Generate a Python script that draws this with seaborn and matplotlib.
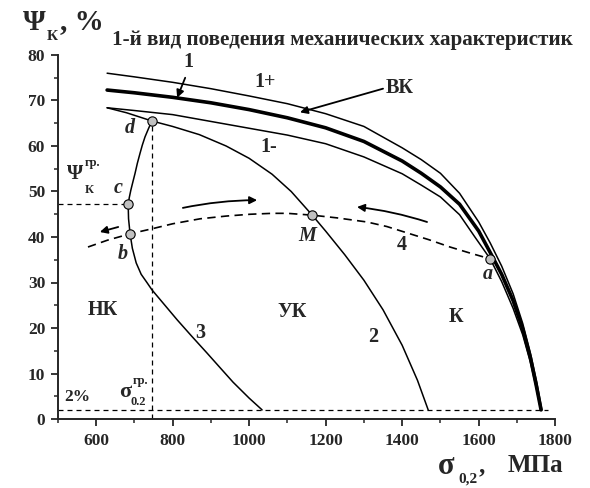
# Import necessary libraries
import numpy as np
import matplotlib
matplotlib.use("Agg")
import matplotlib.pyplot as plt
import seaborn as sns

# Curve data (sigma_0.2 in MPa, Psi_K in %)
upper_x = [629, 700, 800, 900, 1000, 1100, 1200, 1300, 1400, 1450, 1500, 1550, 1600, 1630,
           1660, 1690, 1715, 1735, 1752, 1765]
upper_y = [76.0, 75.2, 74.0, 72.6, 71.0, 69.3, 67.1, 64.3, 59.6, 57.0, 54.0, 49.6, 43.3, 38.7,
           33.6, 27.5, 21.0, 14.5, 8.0, 2.0]

main_x = [629, 700, 800, 900, 1000, 1100, 1200, 1300, 1400, 1450, 1500, 1550, 1600, 1630,
          1660, 1690, 1715, 1735, 1750, 1763]
main_y = [72.3, 71.7, 70.7, 69.5, 68.0, 66.2, 64.0, 61.0, 56.7, 54.0, 51.0, 47.2, 41.3, 36.6,
          31.8, 26.0, 19.8, 13.5, 7.5, 2.0]

lower_x = [629, 700, 800, 900, 1000, 1100, 1200, 1300, 1400, 1450, 1500, 1550, 1590, 1630,
           1660, 1690, 1715, 1735, 1750, 1762]
lower_y = [68.4, 67.8, 66.9, 65.4, 63.9, 62.4, 60.5, 57.6, 53.9, 51.4, 48.8, 44.9, 40.0, 35.2,
           30.2, 24.3, 18.5, 12.5, 7.0, 2.0]

curve2_x = [629, 680, 746, 800, 870, 940, 1000, 1060, 1110, 1165, 1200, 1250, 1300, 1350,
            1400, 1440, 1468]
curve2_y = [68.4, 67.3, 65.5, 64.3, 62.5, 60.0, 57.3, 53.8, 50.0, 44.8, 41.3, 36.1, 30.5, 24.0,
            16.2, 8.5, 2.0]

curve3_x = [746, 737, 728, 721, 715, 708, 702, 696, 691, 687, 684, 685, 689, 695, 705, 718,
            733, 746, 780, 812, 850, 890, 925, 958, 1000, 1034]
curve3_y = [65.5, 63.8, 62.0, 60.2, 58.4, 56.2, 54.0, 52.0, 50.3, 48.7, 47.2, 44.0, 40.7, 37.5,
            34.3, 31.8, 30.0, 28.4, 25.0, 21.8, 18.2, 14.5, 11.2, 8.1, 4.6, 2.0]

curve4_x = [579, 630, 689, 746, 800, 872, 940, 1003, 1060, 1100, 1165, 1230, 1308, 1360,
            1413, 1470, 1525, 1580, 1630]
curve4_y = [37.8, 39.3, 40.7, 41.8, 42.9, 44.0, 44.6, 45.0, 45.2, 45.2, 44.8, 44.2, 43.3, 42.3,
            40.9, 39.4, 37.8, 36.4, 35.2]

# Marked points a, b, c, d, M
point_names = ["a", "b", "c", "d", "M"]
point_x = [1630, 689, 684, 746, 1165]
point_y = [35.2, 40.7, 47.2, 65.5, 44.8]

# Boundary values
psi_min = 2.0
sigma_gr = 746
psi_gr = 47.2

x_ticks = [600, 800, 1000, 1200, 1400, 1600, 1800]
y_ticks = [0, 10, 20, 30, 40, 50, 60, 70, 80]

sns.set_style("ticks")
plt.rcParams['font.family'] = ['Liberation Serif', 'DejaVu Serif']
plt.rcParams['font.weight'] = 'bold'

fig = plt.figure(figsize=(5.9, 4.88), dpi=100)
ax = fig.add_axes([57.75 / 590, 1 - 419 / 488, (555.25 - 57.75) / 590, (419 - 55) / 488])

# Main curves
for cx, cy, w in [(upper_x, upper_y, 1.1), (main_x, main_y, 2.6), (lower_x, lower_y, 1.1),
                  (curve2_x, curve2_y, 1.1), (curve3_x, curve3_y, 1.1)]:
    sns.lineplot(x=cx, y=cy, ax=ax, sort=False, estimator=None, color="black", lw=w)
sns.lineplot(x=curve4_x, y=curve4_y, ax=ax, sort=False, estimator=None, color="black", lw=1.2)
ax.lines[-1].set_dashes((5, 3.2))

# Dashed boundary lines
ax.axhline(psi_min, xmin=0, xmax=(1780 - 500) / 1300, color="black", lw=0.9, dashes=(4, 3.2))
ax.plot([sigma_gr, sigma_gr], [0, point_y[3]], color="black", lw=0.9, dashes=(4, 3.2))
ax.plot([500, point_x[2]], [psi_gr, psi_gr], color="black", lw=0.9, dashes=(4, 3.2))

# Points
sns.scatterplot(x=point_x, y=point_y, ax=ax, s=45, color="#c0c0c0", edgecolor="black",
                linewidth=0.8, zorder=5)

# Arrows
arr = dict(arrowstyle="-|>", color="black", lw=1.3, mutation_scale=11, shrinkA=0, shrinkB=0)
ax.annotate("", xy=(610, 41.1), xytext=(658, 42.2), arrowprops=arr)
ax.annotate("", xy=(1021, 48.1), xytext=(827, 46.4),
            arrowprops=dict(arr, connectionstyle="arc3,rad=-0.05"))
ax.annotate("", xy=(1282, 46.6), xytext=(1465, 43.3),
            arrowprops=dict(arr, connectionstyle="arc3,rad=0.05"))
ax.annotate("", xy=(812, 70.6), xytext=(833, 75.0), arrowprops=arr)
ax.annotate("", xy=(1133, 67.4), xytext=(1350, 72.6), arrowprops=arr)

# Labels inside the plot
lab = dict(fontsize=14.5, fontweight="bold", ha="center", va="center")
ax.text(842, 78.4, "1", **lab)
ax.text(1042, 74.1, "1+", **lab)
ax.text(1052, 59.8, "1-", **lab)
ax.text(1356, 72.7, "ВК", fontsize=14.5, fontweight="bold", ha="left", va="center")
ax.text(618, 24.0, "НК", **lab)
ax.text(1112, 23.5, "УК", **lab)
ax.text(1540, 22.4, "К", **lab)
ax.text(1324, 18.0, "2", **lab)
ax.text(872, 18.8, "3", **lab)
ax.text(1400, 38.2, "4", **lab)
ax.text(550, 4.8, "2%", fontsize=12.5, fontweight="bold", ha="center", va="center")

ital = dict(fontsize=14.5, fontweight="bold", style="italic", ha="center", va="center")
ax.text(1625, 31.8, "a", **ital)
ax.text(671, 36.3, "b", **ital)
ax.text(658, 50.8, "c", **ital)
ax.text(689, 64.0, "d", **ital)
ax.text(1151, 40.2, "M", **ital)

# sigma_0.2 boundary label
ax.text(676, 6.0, "σ", fontsize=16, fontweight="bold", ha="center", va="center")
ax.text(696, 8.4, "гр.", fontsize=9, fontweight="bold", ha="left", va="center")
ax.text(691, 3.7, "0.2", fontsize=9, fontweight="bold", ha="left", va="center")

# Psi_K boundary label
ax.text(545, 53.8, "Ψ", fontsize=15, fontweight="bold", ha="center", va="center")
ax.text(570, 56.2, "гр.", fontsize=9, fontweight="bold", ha="left", va="center")
ax.text(570, 50.3, "К", fontsize=9, fontweight="bold", ha="left", va="center")

# Axes formatting
ax.set_xlim(500, 1800)
ax.set_ylim(0, 80)
ax.set_xticks(x_ticks)
ax.set_yticks(y_ticks)
ax.set_xticks(np.arange(500, 1801, 100), minor=True)
ax.set_yticks(np.arange(0, 81, 5), minor=True)
ax.set_xticklabels([str(t) for t in x_ticks], fontsize=12.5, fontweight="bold")
ax.set_yticklabels([str(t) for t in y_ticks], fontsize=12.5, fontweight="bold")
ax.tick_params(which="major", direction="out", length=5, width=1.3)
ax.tick_params(axis="x", which="major", pad=5)
ax.tick_params(axis="y", which="major", pad=4)
ax.tick_params(which="minor", direction="out", length=3, width=1.1)
for side in ["top", "right"]:
    ax.spines[side].set_visible(False)
for side in ["left", "bottom"]:
    ax.spines[side].set_linewidth(1.4)

# Title and axis labels
fig.text(342 / 590, 1 - 40 / 488, "1-й вид поведения механических характеристик",
         fontsize=15.2, fontweight="bold", ha="center", va="center")
fig.text(34 / 590, 1 - 22 / 488, "Ψ", fontsize=21, fontweight="bold", ha="center", va="center")
fig.text(52 / 590, 1 - 36 / 488, "К", fontsize=11, fontweight="bold", ha="center", va="center")
fig.text(60 / 590, 1 - 22 / 488, ", %", fontsize=21, fontweight="bold", ha="left", va="center")

fig.text(446 / 590, 1 - 466 / 488, "σ", fontsize=22, fontweight="bold", ha="center", va="center")
fig.text(458 / 590, 1 - 479 / 488, "0,2", fontsize=11, fontweight="bold", ha="left", va="center")
fig.text(479 / 590, 1 - 466 / 488, ",", fontsize=18, fontweight="bold", ha="left", va="center")
fig.text(508 / 590, 1 - 466 / 488, "МПа", fontsize=18, fontweight="bold", ha="left", va="center")

plt.savefig("out.png", dpi=100)
